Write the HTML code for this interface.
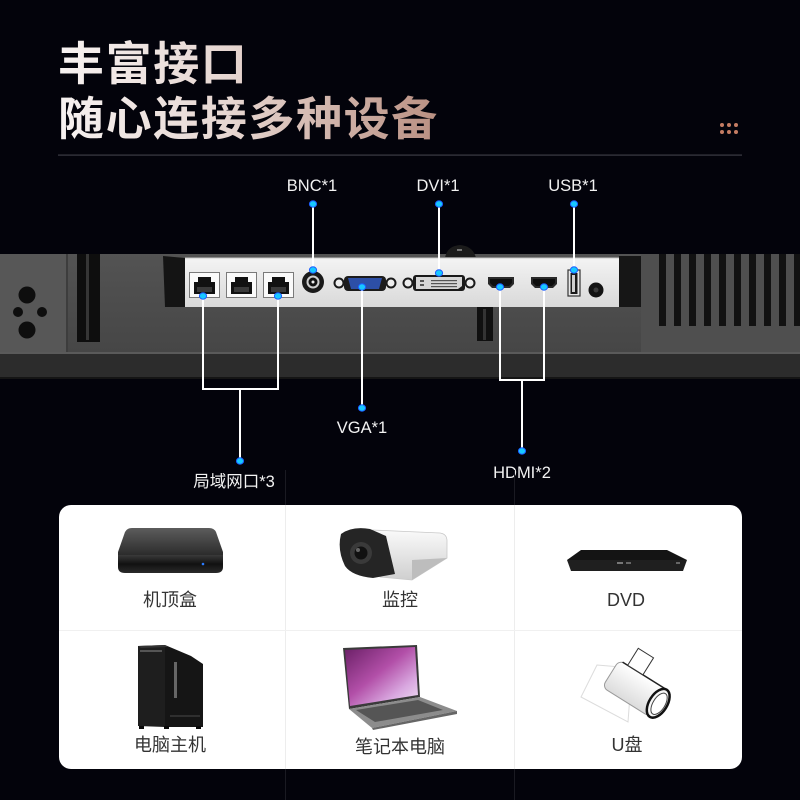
<!DOCTYPE html>
<html><head><meta charset="utf-8">
<style>
html,body{margin:0;padding:0;background:#03030b;}
body{width:800px;height:800px;overflow:hidden;position:relative;}
svg{position:absolute;left:0;top:0;}
text{font-family:"Liberation Sans","Noto Sans CJK SC",sans-serif;}
</style></head>
<body>
<svg width="800" height="800" viewBox="0 0 800 800" xmlns="http://www.w3.org/2000/svg">
<defs>
  <linearGradient id="tg" gradientUnits="userSpaceOnUse" x1="58" y1="0" x2="440" y2="0">
    <stop offset="0" stop-color="#f7f2f1"/>
    <stop offset="0.45" stop-color="#e6d6d1"/>
    <stop offset="1" stop-color="#b98f81"/>
  </linearGradient>
  <linearGradient id="panel" x1="0" y1="0" x2="0" y2="1">
    <stop offset="0" stop-color="#f4f4f4"/>
    <stop offset="1" stop-color="#d9d9d9"/>
  </linearGradient>
  <linearGradient id="band" x1="0" y1="0" x2="0" y2="1">
    <stop offset="0" stop-color="#535353"/>
    <stop offset="1" stop-color="#464646"/>
  </linearGradient>
  <linearGradient id="stbTop" x1="0" y1="0" x2="0" y2="1">
    <stop offset="0" stop-color="#5c5c5c"/>
    <stop offset="1" stop-color="#2a2a2a"/>
  </linearGradient>
  <linearGradient id="stbFront" x1="0" y1="0" x2="0" y2="1">
    <stop offset="0" stop-color="#3a3a3a"/>
    <stop offset="0.5" stop-color="#111"/>
    <stop offset="1" stop-color="#2a2a2a"/>
  </linearGradient>
  <linearGradient id="camBody" x1="0" y1="0" x2="0" y2="1">
    <stop offset="0" stop-color="#fafafa"/>
    <stop offset="1" stop-color="#cfcfcf"/>
  </linearGradient>
  <linearGradient id="screen" x1="0" y1="0" x2="1" y2="1">
    <stop offset="0" stop-color="#6a1f66"/>
    <stop offset="0.45" stop-color="#b24fa8"/>
    <stop offset="0.75" stop-color="#d9a8e0"/>
    <stop offset="1" stop-color="#efe1f3"/>
  </linearGradient>
  <linearGradient id="usbBody" x1="0" y1="0" x2="0" y2="1">
    <stop offset="0" stop-color="#ffffff"/>
    <stop offset="1" stop-color="#dcdcdc"/>
  </linearGradient>
</defs>

<!-- Title -->
<text x="58" y="80" font-size="46" font-weight="700" letter-spacing="1.6" fill="url(#tg)">丰富接口</text>
<text x="58" y="135" font-size="46" font-weight="700" letter-spacing="1.6" fill="url(#tg)">随心连接多种设备</text>

<!-- dots -->
<g fill="#c47c63">
  <circle cx="722" cy="125" r="2"/><circle cx="729" cy="125" r="2"/><circle cx="736" cy="125" r="2"/>
  <circle cx="722" cy="132" r="2"/><circle cx="729" cy="132" r="2"/><circle cx="736" cy="132" r="2"/>
</g>
<rect x="58" y="154.5" width="684" height="1.2" fill="#3c3c45"/>

<!-- Monitor band -->
<rect x="0" y="254" width="800" height="99" fill="url(#band)"/>
<rect x="0" y="352" width="800" height="2" fill="#5a5a5a"/>
<rect x="0" y="354" width="800" height="23" fill="#2c2c2c"/>
<rect x="0" y="377" width="800" height="2" fill="#151515"/>
<!-- left panel -->
<rect x="0" y="254" width="67" height="98" fill="#575757"/>
<rect x="66" y="254" width="2" height="98" fill="#3d3d3d"/>
<g fill="#0e0e0e">
  <circle cx="27" cy="295" r="8.5"/>
  <circle cx="18" cy="312" r="5"/>
  <circle cx="42" cy="312" r="5"/>
  <circle cx="27" cy="330" r="8.5"/>
</g>
<rect x="77" y="254" width="23" height="88" fill="#0e0e0e"/>
<rect x="86" y="254" width="3" height="86" fill="#363636"/>

<!-- knob -->
<path d="M445 258 Q447 246 460 245 Q473 246 476 258 Z" fill="#1b1b1b"/>
<rect x="457" y="249" width="5" height="2" fill="#777"/>

<!-- vents -->
<rect x="641" y="254" width="159" height="98" fill="#4f4f4f"/>
<g fill="#121212">
  <rect x="659" y="254" width="7" height="72"/>
  <rect x="674" y="254" width="7" height="72"/>
  <rect x="689" y="254" width="7" height="72"/>
  <rect x="704" y="254" width="7" height="72"/>
  <rect x="719" y="254" width="7" height="72"/>
  <rect x="734" y="254" width="7" height="72"/>
  <rect x="749" y="254" width="7" height="72"/>
  <rect x="764" y="254" width="7" height="72"/>
  <rect x="779" y="254" width="7" height="72"/>
  <rect x="794" y="254" width="6" height="72"/>
</g>

<!-- port panel -->
<path d="M163 256 L185 258 L185 307 L165 307 Z" fill="#141414"/>
<rect x="185" y="257" width="434" height="50" fill="url(#panel)"/>
<rect x="185" y="257" width="434" height="1.2" fill="#8a8a8a"/>
<rect x="619" y="256" width="22" height="51" fill="#161616"/>
<rect x="477" y="307" width="16" height="34" fill="#101010"/>
<rect x="483" y="309" width="3" height="31" fill="#333"/>

<!-- RJ45 -->
<g>
  <rect x="189.5" y="272.5" width="30" height="25" fill="#fafafa" stroke="#7a7a7a"/>
  <path d="M194 282 L198 282 L198 277 L211 277 L211 282 L215 282 L215 294 L194 294 Z" fill="#111"/>
  <rect x="197" y="287" width="15" height="5" fill="#3a3a3a"/>
  <rect x="226.5" y="272.5" width="30" height="25" fill="#fafafa" stroke="#7a7a7a"/>
  <path d="M231 282 L235 282 L235 277 L248 277 L248 282 L252 282 L252 294 L231 294 Z" fill="#111"/>
  <rect x="234" y="287" width="15" height="5" fill="#3a3a3a"/>
  <rect x="263.5" y="272.5" width="30" height="25" fill="#fafafa" stroke="#7a7a7a"/>
  <path d="M268 282 L272 282 L272 277 L285 277 L285 282 L289 282 L289 294 L268 294 Z" fill="#111"/>
  <rect x="271" y="287" width="15" height="5" fill="#3a3a3a"/>
</g>
<!-- BNC -->
<circle cx="313" cy="282" r="11" fill="#1a1a1a"/>
<circle cx="313" cy="282" r="6.5" fill="#cfcfcf"/>
<circle cx="313" cy="282" r="4.5" fill="#111"/>
<circle cx="313" cy="282" r="1.5" fill="#eee"/>
<!-- VGA -->
<circle cx="339" cy="283" r="4.5" fill="#eee" stroke="#1a1a1a" stroke-width="2"/>
<circle cx="391" cy="283" r="4.5" fill="#eee" stroke="#1a1a1a" stroke-width="2"/>
<rect x="344" y="276" width="42" height="15" rx="4" fill="#1c1c1c"/>
<path d="M348 278 L382 278 L379 289 L351 289 Z" fill="#2d4fa6"/>
<!-- DVI -->
<circle cx="408" cy="283" r="4.5" fill="#eee" stroke="#1a1a1a" stroke-width="2"/>
<circle cx="470" cy="283" r="4.5" fill="#eee" stroke="#1a1a1a" stroke-width="2"/>
<rect x="413" y="275" width="52" height="16" rx="3" fill="#1a1a1a"/>
<path d="M416 277 L462 277 L462 286 L458 289 L416 289 Z" fill="#d6d6d6"/>
<g fill="#555">
  <rect x="420" y="280" width="4" height="2"/><rect x="420" y="284" width="4" height="2"/>
  <rect x="431" y="280" width="26" height="1.2"/><rect x="431" y="283" width="26" height="1.2"/><rect x="431" y="286" width="26" height="1.2"/>
</g>
<!-- HDMI -->
<path d="M488 277 L514 277 L514 284 L510 288 L492 288 L488 284 Z" fill="#2a2a2a"/>
<path d="M490 279 L512 279 L512 283 L509 286 L493 286 L490 283 Z" fill="#0e0e0e"/>
<path d="M531 277 L557 277 L557 284 L553 288 L535 288 L531 284 Z" fill="#2a2a2a"/>
<path d="M533 279 L555 279 L555 283 L552 286 L536 286 L533 283 Z" fill="#0e0e0e"/>
<!-- USB -->
<rect x="568" y="270" width="12" height="26" fill="#e8e8e8" stroke="#333" stroke-width="1.2"/>
<rect x="570.5" y="273" width="7" height="21" fill="#1a1a1a"/>
<rect x="572" y="275" width="3" height="17" fill="#cfcfcf"/>
<!-- jack -->
<circle cx="596" cy="290" r="7.5" fill="#131313"/>
<circle cx="596" cy="290" r="2.5" fill="#3a3a3a"/>

<!-- Connector lines -->
<g stroke="#ffffff" stroke-width="2" fill="none">
  <path d="M313 204 V270"/>
  <path d="M439 204 V273"/>
  <path d="M574 204 V270"/>
  <path d="M203 296 V389 H278 V296"/>
  <path d="M240 389 V461"/>
  <path d="M362 287 V408"/>
  <path d="M500 287 V380 H544 V287"/>
  <path d="M522 380 V451"/>
</g>
<!-- Blue dots -->
<g fill="#17c8ff" stroke="#1d5cff" stroke-width="1">
  <ellipse cx="313" cy="204" rx="3.6" ry="3.2"/>
  <ellipse cx="439" cy="204" rx="3.6" ry="3.2"/>
  <ellipse cx="574" cy="204" rx="3.6" ry="3.2"/>
  <ellipse cx="313" cy="270" rx="3.6" ry="3.2"/>
  <ellipse cx="439" cy="273" rx="3.6" ry="3.2"/>
  <ellipse cx="574" cy="270" rx="3.6" ry="3.2"/>
  <ellipse cx="203" cy="296" rx="3.6" ry="3.2"/>
  <ellipse cx="278" cy="296" rx="3.6" ry="3.2"/>
  <ellipse cx="362" cy="287" rx="3.6" ry="3.2"/>
  <ellipse cx="500" cy="287" rx="3.6" ry="3.2"/>
  <ellipse cx="544" cy="287" rx="3.6" ry="3.2"/>
  <ellipse cx="240" cy="461" rx="3.6" ry="3.2"/>
  <ellipse cx="362" cy="408" rx="3.6" ry="3.2"/>
  <ellipse cx="522" cy="451" rx="3.6" ry="3.2"/>
</g>

<!-- Labels -->
<g fill="#f2f2f2" font-size="16.5" text-anchor="middle">
  <text x="312" y="191">BNC*1</text>
  <text x="438" y="191">DVI*1</text>
  <text x="573" y="191">USB*1</text>
  <text x="362" y="433">VGA*1</text>
  <text x="234" y="487">局域网口*3</text>
  <text x="522" y="478">HDMI*2</text>
</g>

<!-- faint grid lines outside card -->
<g fill="#1a1a22">
  <rect x="285" y="470" width="1" height="35"/>
  <rect x="514" y="470" width="1" height="35"/>
  <rect x="285" y="769" width="1" height="31"/>
  <rect x="514" y="769" width="1" height="31"/>
</g>

<!-- Card -->
<rect x="59" y="505" width="683" height="264" rx="12" fill="#ffffff"/>
<rect x="285" y="505" width="1" height="264" fill="#ededed"/>
<rect x="514" y="505" width="1" height="264" fill="#ededed"/>
<rect x="59" y="630" width="683" height="1" fill="#f0f0f0"/>

<!-- Set-top box -->
<path d="M132 528 L209 528 Q214 528 216 532 L223 552 L223 556 L118 556 L118 552 L125 532 Q127 528 132 528 Z" fill="url(#stbTop)"/>
<path d="M118 555 L223 555 L223 567 Q223 573 216 573 L125 573 Q118 573 118 567 Z" fill="url(#stbFront)"/>
<circle cx="203" cy="564" r="1.3" fill="#2a7bff"/>

<!-- Camera -->
<path d="M372 530 L440 533 Q447 534 447 541 L447 558 L412 580 L380 577 L372 560 Z" fill="url(#camBody)" stroke="#c8c8c8" stroke-width="0.8"/>
<path d="M412 560 L447 558 L412 580 Z" fill="#bdbdbd"/>
<path d="M341 534 Q352 526 370 529 L386 536 L395 574 L373 578 Q352 576 345 566 Q337 550 341 534 Z" fill="#252525"/>
<circle cx="361" cy="553" r="11" fill="#3a3a3a"/>
<circle cx="361" cy="553" r="6.5" fill="#111"/>
<circle cx="358" cy="550" r="2" fill="#666"/>

<!-- DVD -->
<path d="M581 550 L667 550 L687 560 L567 560 Z" fill="#141414"/>
<path d="M567 560 L687 560 L683 571 L571 571 Z" fill="#1f1f1f"/>
<rect x="617" y="562" width="6" height="2" fill="#777"/>
<rect x="626" y="562" width="5" height="2" fill="#666"/>
<rect x="676" y="562" width="4" height="2" fill="#666"/>

<!-- PC tower -->
<path d="M138 646 L165 645 L165 727 L138 726 Z" fill="#1e1e1e"/>
<path d="M165 645 L191 656 L203 664 L203 727 L165 727 Z" fill="#151515"/>
<path d="M138 646 L165 645 L168 647 L141 648 Z" fill="#333"/>
<rect x="140" y="650" width="22" height="2" fill="#555"/>
<rect x="174" y="662" width="3" height="36" fill="#666"/>
<rect x="170" y="715" width="30" height="2" fill="#2f2f2f"/>
<g fill="#0a0a0a">
  <rect x="139" y="726" width="5" height="3"/><rect x="164" y="726" width="5" height="3"/><rect x="196" y="726" width="5" height="3"/>
</g>

<!-- Laptop -->
<path d="M343 648 L417 645 L420 697 L349 709 Z" fill="#3a3a3a"/>
<path d="M345 650 L415 647 L418 695 L350 706 Z" fill="url(#screen)"/>
<path d="M349 709 L420 697 L457 711 L372 728 Z" fill="#8c8c8c"/>
<path d="M356 710 L418 700 L443 710 L375 722 Z" fill="#555"/>
<path d="M372 728 L457 711 L457 714 L373 730 Z" fill="#666"/>

<!-- USB drive -->
<path d="M597 665 L632 668 L628 722 L581 697 Z" fill="none" stroke="#dcdcdc" stroke-width="1"/>
<g transform="rotate(32 630 688)">
  <rect x="606" y="670" width="56" height="32" rx="6" fill="url(#usbBody)" stroke="#9a9a9a" stroke-width="1"/>
  <path d="M610 670 L660 670" stroke="#222" stroke-width="1.5"/>
  <ellipse cx="662" cy="686" rx="9" ry="16" fill="#f6f6f6" stroke="#111" stroke-width="2.5"/>
  <ellipse cx="663" cy="686" rx="6" ry="12" fill="#fff" stroke="#444" stroke-width="1"/>
  <rect x="616" y="650" width="18" height="20" fill="#fff" stroke="#333" stroke-width="1"/>
</g>

<!-- Card labels -->
<g fill="#333333" font-size="18" text-anchor="middle">
  <text x="170" y="606">机顶盒</text>
  <text x="400" y="606">监控</text>
  <text x="626" y="606">DVD</text>
  <text x="170" y="751">电脑主机</text>
  <text x="400" y="753">笔记本电脑</text>
  <text x="627" y="751">U盘</text>
</g>
</svg>
</body></html>
